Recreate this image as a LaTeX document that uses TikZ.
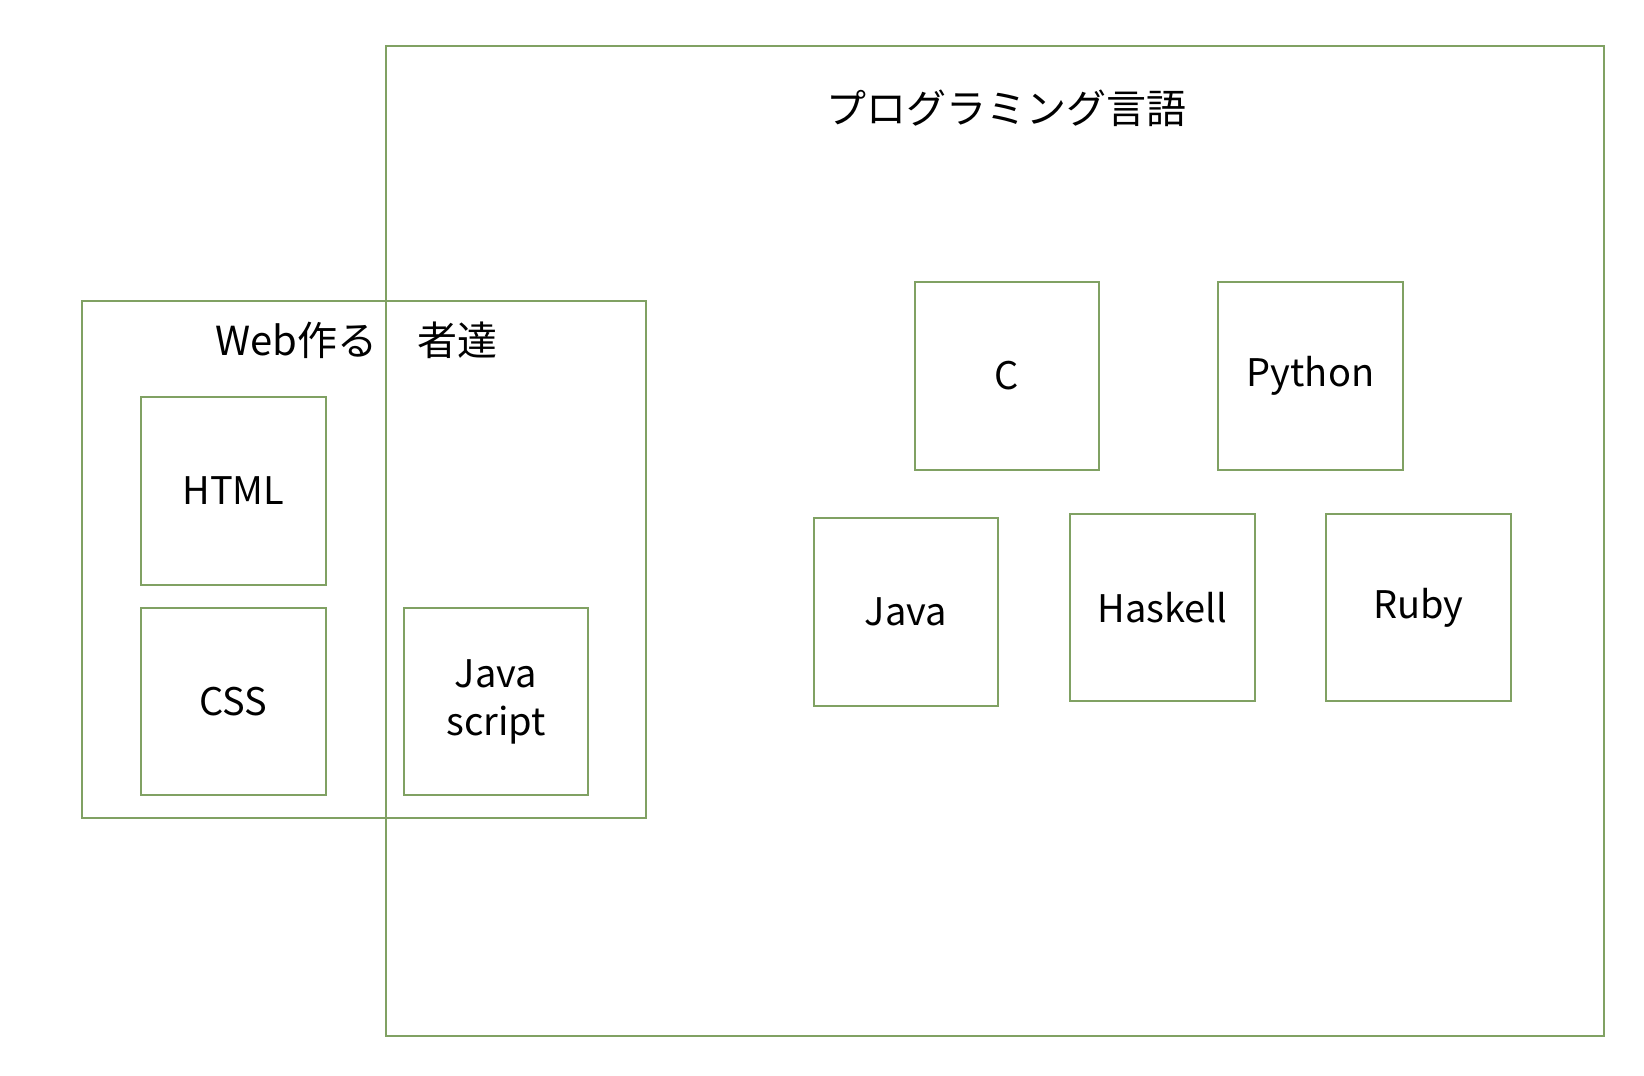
\documentclass[tikz,border=0pt]{standalone}
\usepackage{fontspec}
\setmainfont{Noto Sans CJK JP}
\definecolor{boxgreen}{HTML}{80A163}
\begin{document}
\begin{tikzpicture}[x=1pt,y=-1pt,
  frame/.style={draw=boxgreen,line width=2pt,rectangle,inner sep=0pt},
  lang/.style={frame,align=center,font=\fontsize{38}{46}\selectfont},
  ttl/.style={font=\fontsize{40}{48}\selectfont,inner sep=0pt}]
\useasboundingbox (0,0) rectangle (1644,1076);
% outer frames
\node[frame,minimum width=1218pt,minimum height=990pt] (prog) at (995,541) {};
\node[frame,minimum width=564pt,minimum height=517pt] (web) at (364,559.5) {};
% titles
\node[ttl] (progtitle) at (1006,108) {プログラミング言語};
\node[ttl] (webtitle) at (356,340) {Web作る　者達};
% web boxes
\node[lang,minimum width=184.5pt,minimum height=188pt] (html) at (233.5,491) {HTML};
\node[lang,minimum width=184.5pt,minimum height=187pt] (css) at (233.5,701.5) {CSS};
\node[lang,minimum width=184pt,minimum height=187pt] (js) at (496,701.5) {Java\\[2pt]script};
% programming boxes
\node[lang,minimum width=184pt,minimum height=188pt] (c) at (1007,376) {C};
\node[lang,minimum width=185pt,minimum height=188pt] (python) at (1310.5,376) {Python};
\node[lang,minimum width=184pt,minimum height=188pt] (java) at (906,612) {Java};
\node[lang,minimum width=184.5pt,minimum height=187pt] (haskell) at (1162.5,607.5) {Haskell};
\node[lang,minimum width=185pt,minimum height=187pt] (ruby) at (1418.5,607.5) {Ruby};
\end{tikzpicture}
\end{document}
